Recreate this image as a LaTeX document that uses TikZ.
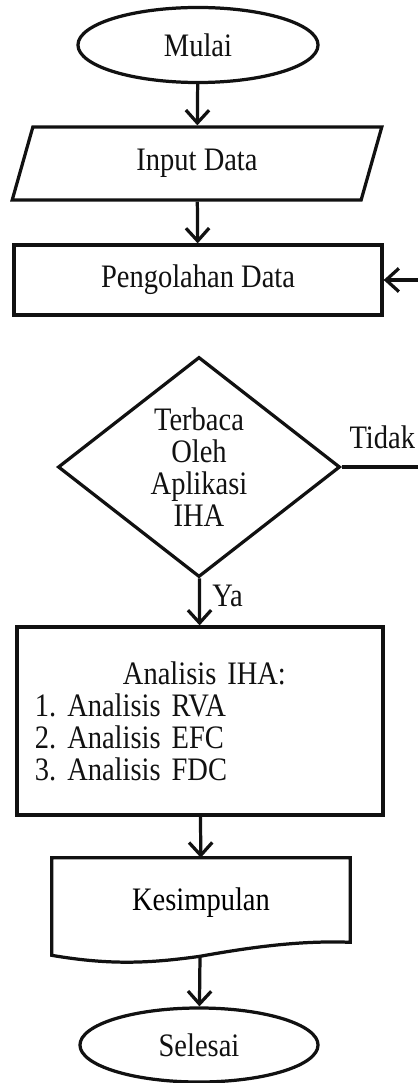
\documentclass[tikz,border=0pt]{standalone}
\usepackage{fontspec}
\setmainfont{Liberation Serif}[FakeStretch=0.87]
\usepackage{xcolor}
\definecolor{ink}{HTML}{111111}
\usepackage{tikz}
\usetikzlibrary{arrows.meta,positioning,shapes.geometric,calc}

\begin{document}
\frenchspacing
\begin{tikzpicture}[
  x=0.025cm, y=-0.025cm, font=\fontsize{23.3}{22.8}\selectfont,
  garis/.style={line width=2.3pt, color=ink, line join=miter},
  arr/.style={garis, -{Straight Barb[length=0.32cm, width=0.58cm, line width=2.3pt]}},
  kotak/.style={garis, draw, rectangle, inner sep=0pt, align=center},
  oval/.style={garis, draw, ellipse, inner sep=0pt},
  label/.style={text=ink, inner sep=2pt}
]
\useasboundingbox[fill=white] (0,0) rectangle (417,1083);

% Start
\node[oval, minimum width=6cm, minimum height=1.875cm] (mulai) at (198,45) {Mulai};

% Input
\node[garis, draw, trapezium, trapezium left angle=75, trapezium right angle=105,
      trapezium stretches=true, inner sep=0pt,
      minimum width=9.25cm, minimum height=1.825cm] (input) at (197,163.5) {Input Data};

% Processing
\node[kotak, minimum width=9.2cm, minimum height=1.75cm] (olah) at (198,280) {Pengolahan Data};

% Decision
\node[garis, draw, diamond, shape aspect=1.28, inner sep=0pt, align=center,
      minimum width=7.05cm, minimum height=5.5cm] (cek) at (199,467) {
  Terbaca\\Oleh\\Aplikasi\\IHA
};

% Analysis box
\node[kotak, align=left, text width=8.25cm, inner xsep=0.45cm,
      minimum height=4.7cm] (hasil) at (200,721) {
  \hspace*{2.2cm}Analisis IHA:\\
  1. Analisis RVA\\
  2. Analisis EFC\\
  3. Analisis FDC
};

% Document (Kesimpulan)
\node[inner sep=0pt, minimum width=7.45cm, minimum height=2.25cm] (simpul) at (201,903) {Kesimpulan};
\coordinate (gel) at ($(simpul.south)+(-1,8)$);
\draw[garis] (simpul.north west) -- (simpul.north east) -- ($(simpul.south east)+(0,-6)$)
  .. controls +(-50,-2) and +(50,-9) .. (gel)
  .. controls +(-50,7) and +(58,10) .. ($(simpul.south west)+(0,7)$) -- cycle;

% End
\node[oval, minimum width=5.95cm, minimum height=1.85cm] (selesai) at (199,1045) {Selesai};

% Connectors
\draw[arr] (mulai) -- (input);
\draw[arr] (input) -- (olah);
\draw[arr] (cek) -- node[label, right, pos=0.38, xshift=6pt] {Ya} (hasil);
\draw[arr] (hasil) -- (simpul);
\draw[arr] (gel) -- (selesai);

% Loop back (Tidak)
\coordinate (kanan) at (432,467);
\draw[arr] (cek.east) -- node[label, pos=0.83, anchor=south east, inner sep=0pt, yshift=12pt] {Tidak} (kanan) |- (olah.east);

\end{tikzpicture}
\end{document}
